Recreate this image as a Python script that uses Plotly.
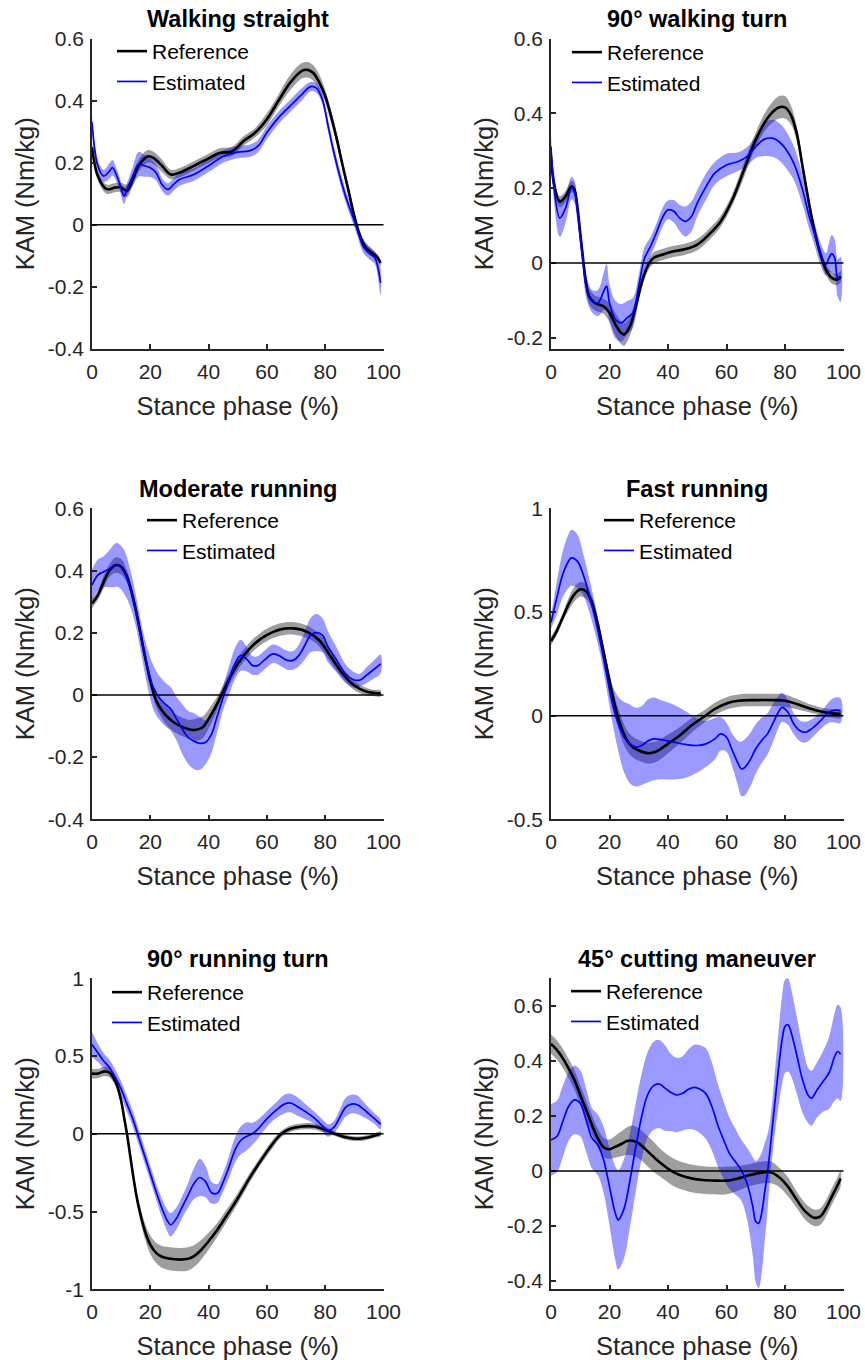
import plotly.graph_objects as go

# ---------------- DATA ----------------
titles = ["Walking straight", "90° walking turn", "Moderate running",
          "Fast running", "90° running turn", "45° cutting maneuver"]

# Walking straight
ws_ref_x = [0,2,5,8,10,12,14,16,19,21,24,27,30,35,40,44,48,52,56,60,64,68,72,74,76,78,80,82,84,86,88,90,92,94,96,98,99]
ws_ref_y = [0.25,0.157,0.115,0.12,0.12,0.11,0.146,0.19,0.22,0.216,0.19,0.162,0.168,0.19,0.214,0.232,0.236,0.27,0.297,0.34,0.40,0.458,0.496,0.499,0.488,0.458,0.415,0.35,0.275,0.19,0.11,0.028,-0.037,-0.074,-0.09,-0.106,-0.123]
ws_ref_sd = [0.02,0.015,0.015,0.015,0.015,0.02,0.02,0.02,0.02,0.02,0.02,0.015,0.015,0.015,0.015,0.015,0.015,0.015,0.015,0.02,0.02,0.025,0.025,0.025,0.025,0.025,0.02,0.02,0.02,0.015,0.015,0.015,0.015,0.015,0.012,0.01,0.01]
ws_est_x = [0,2,4,6,7,9,11,12,14,16,18,20,22,24,26,28,30,35,40,45,50,54,57,60,64,68,72,75,77,79,81,83,85,87,89,91,93,95,97,98,99]
ws_est_y = [0.33,0.19,0.157,0.173,0.184,0.146,0.092,0.114,0.157,0.195,0.19,0.184,0.168,0.13,0.114,0.13,0.146,0.162,0.19,0.22,0.234,0.238,0.254,0.297,0.345,0.383,0.42,0.445,0.44,0.404,0.318,0.232,0.157,0.092,0.039,-0.015,-0.069,-0.09,-0.106,-0.133,-0.187]
ws_est_sd = [0.02,0.02,0.02,0.025,0.025,0.02,0.025,0.02,0.03,0.04,0.035,0.03,0.025,0.02,0.02,0.02,0.02,0.02,0.02,0.02,0.02,0.02,0.02,0.02,0.02,0.02,0.02,0.015,0.015,0.015,0.02,0.02,0.02,0.02,0.02,0.02,0.02,0.02,0.02,0.03,0.04]

# 90 deg walking turn
wt_ref_x = [0,1,3,5,7,8,9,10,11,12,13,15,18,20,22,24,25,27,29,31,33,35,38,42,46,50,54,58,62,66,70,74,78,80,82,84,86,88,90,92,94,96,98,99]
wt_ref_y = [0.284,0.213,0.164,0.178,0.204,0.196,0.151,0.08,0.009,-0.053,-0.089,-0.107,-0.116,-0.133,-0.164,-0.187,-0.191,-0.169,-0.116,-0.053,-0.009,0.013,0.022,0.031,0.037,0.049,0.076,0.111,0.169,0.249,0.329,0.387,0.416,0.416,0.396,0.347,0.258,0.169,0.089,0.027,-0.018,-0.04,-0.044,-0.036]
wt_ref_sd = [0.015,0.015,0.015,0.015,0.015,0.015,0.015,0.015,0.015,0.015,0.02,0.02,0.02,0.025,0.03,0.03,0.03,0.025,0.02,0.015,0.015,0.015,0.015,0.015,0.015,0.015,0.015,0.015,0.015,0.02,0.02,0.025,0.03,0.03,0.025,0.02,0.015,0.015,0.015,0.015,0.015,0.015,0.015,0.015]
wt_est_x = [0,1,3,5,7,8,9,10,11,12,14,16,18,19,20,22,24,26,28,30,32,34,36,38,40,42,44,46,48,50,53,56,60,64,67,70,73,76,78,80,83,86,88,90,92,94,95,96,97,98,99]
wt_est_y = [0.311,0.204,0.12,0.147,0.2,0.191,0.142,0.071,0.0,-0.062,-0.102,-0.107,-0.076,-0.062,-0.107,-0.151,-0.16,-0.147,-0.133,-0.062,0.013,0.044,0.08,0.12,0.142,0.138,0.12,0.111,0.124,0.16,0.204,0.24,0.262,0.271,0.284,0.311,0.331,0.333,0.324,0.307,0.267,0.196,0.133,0.08,0.027,-0.004,0.013,0.025,0.013,-0.04,-0.044]
wt_est_sd = [0.03,0.04,0.05,0.04,0.03,0.03,0.03,0.03,0.03,0.03,0.03,0.035,0.05,0.06,0.05,0.05,0.05,0.045,0.04,0.03,0.03,0.025,0.025,0.025,0.025,0.03,0.035,0.04,0.04,0.035,0.035,0.03,0.03,0.025,0.025,0.03,0.045,0.05,0.05,0.05,0.045,0.04,0.035,0.03,0.03,0.03,0.04,0.05,0.05,0.05,0.06]

# Moderate running
mr_ref_x = [0,2,4,6,8,10,12,14,16,18,20,22,24,26,28,30,33,35,38,40,42,44,46,48,50,54,58,62,66,70,74,78,82,86,90,94,97,99]
mr_ref_y = [0.294,0.32,0.363,0.40,0.417,0.412,0.38,0.315,0.229,0.132,0.046,-0.018,-0.05,-0.072,-0.088,-0.099,-0.11,-0.113,-0.104,-0.077,-0.045,-0.008,0.03,0.068,0.10,0.148,0.181,0.202,0.213,0.213,0.202,0.175,0.122,0.068,0.03,0.011,0.006,0.005]
mr_ref_sd = [0.015,0.015,0.02,0.02,0.025,0.025,0.02,0.02,0.02,0.02,0.02,0.02,0.025,0.03,0.03,0.03,0.03,0.035,0.035,0.03,0.025,0.02,0.02,0.02,0.02,0.02,0.02,0.02,0.02,0.02,0.02,0.02,0.02,0.015,0.015,0.012,0.01,0.01]
mr_est_x = [0,2,4,6,8,9,11,13,15,17,19,21,23,25,27,29,31,33,35,37,39,41,43,45,47,49,51,53,55,57,59,62,64,67,69,71,73,75,77,79,81,84,87,90,92,94,97,99]
mr_est_y = [0.353,0.385,0.396,0.406,0.417,0.417,0.396,0.347,0.272,0.175,0.089,0.025,-0.008,-0.029,-0.045,-0.077,-0.11,-0.137,-0.149,-0.156,-0.152,-0.126,-0.067,-0.008,0.046,0.10,0.127,0.116,0.095,0.095,0.111,0.132,0.127,0.111,0.111,0.127,0.159,0.192,0.20,0.192,0.154,0.111,0.068,0.048,0.048,0.062,0.084,0.10]
mr_est_sd = [0.05,0.05,0.05,0.06,0.07,0.07,0.07,0.06,0.05,0.05,0.06,0.07,0.07,0.07,0.07,0.07,0.08,0.085,0.09,0.085,0.07,0.06,0.05,0.04,0.045,0.05,0.05,0.04,0.03,0.03,0.03,0.03,0.03,0.03,0.03,0.035,0.045,0.055,0.06,0.055,0.05,0.04,0.03,0.025,0.02,0.025,0.03,0.03]

# Fast running
fr_ref_x = [0,2,4,6,8,10,12,14,16,18,20,22,24,26,28,30,33,36,40,44,48,52,56,60,64,70,76,80,84,88,92,96,99]
fr_ref_y = [0.36,0.409,0.473,0.537,0.585,0.609,0.60,0.545,0.44,0.305,0.168,0.04,-0.056,-0.12,-0.152,-0.168,-0.181,-0.173,-0.136,-0.096,-0.048,-0.008,0.032,0.059,0.072,0.075,0.075,0.072,0.056,0.037,0.021,0.011,0.008]
fr_ref_sd = [0.02,0.02,0.02,0.03,0.035,0.035,0.035,0.03,0.03,0.03,0.03,0.04,0.05,0.05,0.05,0.05,0.05,0.05,0.045,0.04,0.035,0.03,0.03,0.03,0.03,0.03,0.03,0.03,0.025,0.02,0.02,0.02,0.02]
fr_est_x = [0,2,4,6,7,9,11,13,15,17,19,21,23,25,27,29,31,33,35,38,42,46,50,53,56,58,60,62,64,65,66,68,70,72,74,76,78,79,81,83,85,87,89,92,95,97,99]
fr_est_y = [0.449,0.569,0.681,0.745,0.761,0.745,0.681,0.585,0.473,0.345,0.20,0.056,-0.04,-0.104,-0.136,-0.152,-0.144,-0.123,-0.112,-0.117,-0.128,-0.139,-0.144,-0.136,-0.112,-0.088,-0.104,-0.168,-0.232,-0.256,-0.253,-0.216,-0.16,-0.12,-0.088,-0.032,0.024,0.04,0.016,-0.04,-0.072,-0.08,-0.064,-0.027,0.016,0.027,0.024]
fr_est_sd = [0.03,0.08,0.11,0.13,0.135,0.13,0.1,0.08,0.07,0.06,0.07,0.09,0.13,0.17,0.19,0.19,0.19,0.2,0.2,0.19,0.18,0.16,0.13,0.11,0.1,0.08,0.07,0.08,0.11,0.13,0.135,0.13,0.12,0.11,0.1,0.09,0.075,0.07,0.06,0.05,0.05,0.05,0.045,0.04,0.05,0.06,0.06]

# 90 deg running turn
rt_ref_x = [0,2,4,6,8,10,11,12,13,14,15,16,18,20,22,24,27,30,33,35,37,40,43,46,50,54,58,62,65,68,72,76,80,84,88,91,94,97,99]
rt_ref_y = [0.387,0.387,0.40,0.394,0.34,0.213,0.106,0.0,-0.128,-0.255,-0.372,-0.468,-0.617,-0.713,-0.766,-0.791,-0.804,-0.809,-0.804,-0.787,-0.755,-0.691,-0.617,-0.532,-0.415,-0.287,-0.17,-0.064,0.0,0.032,0.047,0.047,0.026,-0.004,-0.026,-0.032,-0.026,-0.011,0.0]
rt_ref_sd = [0.03,0.03,0.03,0.03,0.03,0.03,0.03,0.03,0.03,0.03,0.035,0.04,0.05,0.06,0.065,0.07,0.075,0.075,0.075,0.07,0.065,0.055,0.045,0.04,0.035,0.03,0.025,0.025,0.02,0.02,0.02,0.02,0.02,0.015,0.015,0.015,0.015,0.015,0.015]
rt_est_x = [0,2,4,6,8,10,12,14,16,18,20,22,24,26,27,29,31,33,35,37,39,41,43,45,47,49,51,53,55,57,60,63,66,68,70,73,76,79,81,83,85,87,89,91,93,95,97,99]
rt_est_y = [0.574,0.521,0.468,0.426,0.362,0.287,0.191,0.096,-0.021,-0.138,-0.255,-0.372,-0.479,-0.564,-0.585,-0.543,-0.468,-0.394,-0.319,-0.281,-0.309,-0.379,-0.383,-0.309,-0.213,-0.106,-0.043,-0.017,0.0,0.032,0.096,0.149,0.191,0.198,0.181,0.145,0.106,0.053,0.021,0.043,0.106,0.17,0.191,0.187,0.16,0.128,0.096,0.06]
rt_est_sd = [0.08,0.06,0.05,0.05,0.05,0.05,0.05,0.05,0.05,0.05,0.05,0.05,0.06,0.07,0.075,0.07,0.07,0.08,0.1,0.12,0.1,0.07,0.06,0.06,0.07,0.08,0.09,0.09,0.07,0.06,0.05,0.05,0.06,0.06,0.06,0.05,0.04,0.04,0.04,0.04,0.05,0.06,0.06,0.06,0.05,0.04,0.035,0.03]

# 45 deg cutting maneuver
cm_ref_x = [0,2,4,6,8,10,12,14,16,18,20,22,24,26,28,30,32,35,38,41,44,48,52,56,60,64,68,72,75,78,81,84,87,90,92,94,96,98,99]
cm_ref_y = [0.461,0.44,0.41,0.373,0.331,0.276,0.222,0.167,0.119,0.086,0.079,0.088,0.098,0.109,0.11,0.10,0.082,0.052,0.024,0.001,-0.015,-0.027,-0.033,-0.035,-0.035,-0.027,-0.015,-0.006,-0.005,-0.023,-0.057,-0.105,-0.148,-0.17,-0.166,-0.136,-0.093,-0.051,-0.027]
cm_ref_sd = [0.035,0.035,0.035,0.035,0.035,0.035,0.035,0.035,0.035,0.035,0.035,0.04,0.045,0.05,0.055,0.055,0.055,0.055,0.05,0.05,0.05,0.05,0.05,0.05,0.05,0.045,0.04,0.04,0.04,0.035,0.035,0.03,0.03,0.03,0.03,0.03,0.03,0.03,0.03]
cm_est_x = [0,2,4,6,8,10,12,14,16,18,20,22,23,25,27,29,31,33,35,37,39,41,43,45,47,49,51,53,55,57,59,61,63,65,67,69,70,71,72,73,74,75,77,79,80,81,82,84,86,88,89,91,93,95,97,98,99]
cm_est_y = [0.113,0.125,0.179,0.234,0.258,0.246,0.185,0.119,0.095,0.04,-0.057,-0.154,-0.178,-0.136,-0.033,0.088,0.198,0.276,0.309,0.316,0.301,0.285,0.276,0.282,0.297,0.304,0.297,0.28,0.234,0.167,0.113,0.064,0.034,0.004,-0.045,-0.13,-0.184,-0.19,-0.154,-0.081,-0.008,0.088,0.295,0.476,0.525,0.531,0.507,0.422,0.331,0.273,0.264,0.295,0.325,0.355,0.416,0.434,0.424]
cm_est_sd = [0.13,0.13,0.13,0.125,0.125,0.12,0.115,0.11,0.11,0.12,0.14,0.17,0.18,0.18,0.17,0.16,0.155,0.155,0.16,0.16,0.155,0.14,0.135,0.135,0.145,0.155,0.16,0.165,0.16,0.15,0.14,0.13,0.12,0.11,0.13,0.18,0.22,0.235,0.22,0.18,0.14,0.1,0.12,0.16,0.17,0.17,0.16,0.14,0.12,0.1,0.1,0.1,0.11,0.13,0.16,0.17,0.17]

x_ticks = [0, 20, 40, 60, 80, 100]
y_ticks = [
    [-0.4, -0.2, 0, 0.2, 0.4, 0.6],
    [-0.2, 0, 0.2, 0.4, 0.6],
    [-0.4, -0.2, 0, 0.2, 0.4, 0.6],
    [-0.5, 0, 0.5, 1],
    [-1, -0.5, 0, 0.5, 1],
    [-0.4, -0.2, 0, 0.2, 0.4, 0.6],
]
y_ranges = [[-0.4, 0.6], [-0.23, 0.6], [-0.4, 0.6], [-0.5, 1], [-1, 1], [-0.43, 0.70]]

panels = [
    (ws_ref_x, ws_ref_y, ws_ref_sd, ws_est_x, ws_est_y, ws_est_sd),
    (wt_ref_x, wt_ref_y, wt_ref_sd, wt_est_x, wt_est_y, wt_est_sd),
    (mr_ref_x, mr_ref_y, mr_ref_sd, mr_est_x, mr_est_y, mr_est_sd),
    (fr_ref_x, fr_ref_y, fr_ref_sd, fr_est_x, fr_est_y, fr_est_sd),
    (rt_ref_x, rt_ref_y, rt_ref_sd, rt_est_x, rt_est_y, rt_est_sd),
    (cm_ref_x, cm_ref_y, cm_ref_sd, cm_est_x, cm_est_y, cm_est_sd),
]

# ---------------- LAYOUT ----------------
W, H = 865, 1360
FONT = "Liberation Sans, Arial, Helvetica, sans-serif"
AX = "#262626"
col_px = [(92, 383.5), (551, 843.5)]
row_px = [(38.5, 349), (508.3, 819.3), (978.3, 1289.3)]
legend_px = [(112, 31), (567, 32), (142, 500), (599, 500), (107, 972), (566, 971)]

REF_BAND = "rgba(0,0,0,0.38)"
EST_BAND = "rgba(0,0,255,0.4)"

fig = go.Figure()
layout = dict(width=W, height=H, margin=dict(l=0, r=0, t=0, b=0, autoexpand=False),
              paper_bgcolor="white", plot_bgcolor="white",
              font=dict(family=FONT, color=AX), annotations=[], shapes=[])


def fmt(v):
    return "%g" % v


for i, (rx, ry, rs, ex, ey, es) in enumerate(panels):
    n = i + 1
    r, c = divmod(i, 2)
    xa = "x" if n == 1 else f"x{n}"
    ya = "y" if n == 1 else f"y{n}"
    leg = "legend" if n == 1 else f"legend{n}"
    # bands
    fig.add_trace(go.Scatter(
        x=rx + rx[::-1],
        y=[a + b for a, b in zip(ry, rs)] + [a - b for a, b in zip(ry, rs)][::-1],
        fill="toself", fillcolor=REF_BAND, line=dict(width=0, shape="spline"),
        mode="lines", hoverinfo="skip", showlegend=False, xaxis=xa, yaxis=ya))
    fig.add_trace(go.Scatter(
        x=ex + ex[::-1],
        y=[a + b for a, b in zip(ey, es)] + [a - b for a, b in zip(ey, es)][::-1],
        fill="toself", fillcolor=EST_BAND, line=dict(width=0, shape="spline"),
        mode="lines", hoverinfo="skip", showlegend=False, xaxis=xa, yaxis=ya))
    # mean lines
    fig.add_trace(go.Scatter(x=rx, y=ry, mode="lines", name="Reference",
                             line=dict(color="black", width=2.6, shape="spline"),
                             xaxis=xa, yaxis=ya, legend=leg))
    fig.add_trace(go.Scatter(x=ex, y=ey, mode="lines", name="Estimated",
                             line=dict(color="#0000ff", width=1.7, shape="spline"),
                             xaxis=xa, yaxis=ya, legend=leg))

    x0p, x1p = col_px[c]
    y0p, y1p = row_px[r]
    xdom = [x0p / W, x1p / W]
    ydom = [1 - y1p / H, 1 - y0p / H]
    axkey = "xaxis" if n == 1 else f"xaxis{n}"
    aykey = "yaxis" if n == 1 else f"yaxis{n}"
    common = dict(showline=True, linecolor=AX, linewidth=1.6, ticks="inside",
                  ticklen=5, tickwidth=1.6, tickcolor=AX, showgrid=False,
                  zeroline=False, mirror=False, automargin=False,
                  tickfont=dict(family=FONT, size=21, color=AX))
    layout[axkey] = dict(common, domain=xdom, anchor=ya, range=[0, 100],
                         tickvals=x_ticks, ticktext=[fmt(v) for v in x_ticks],
                         ticklabelstandoff=3,
                         title=dict(text="Stance phase (%)", standoff=15,
                                    font=dict(family=FONT, size=25.5, color=AX)))
    layout[aykey] = dict(common, domain=ydom, anchor=xa, range=y_ranges[i],
                         tickvals=y_ticks[i], ticktext=[fmt(v) for v in y_ticks[i]],
                         ticklabelstandoff=2,
                         title=dict(text="KAM (Nm/kg)", standoff=6,
                                    font=dict(family=FONT, size=25.5, color=AX)))
    # zero reference line
    layout["shapes"].append(dict(type="line", xref=f"{xa} domain", x0=0, x1=1,
                                 yref=ya, y0=0, y1=0,
                                 line=dict(color="black", width=1.5), layer="above"))
    # title
    layout["annotations"].append(dict(
        text=f"<b>{titles[i]}</b>", xref="paper", yref="paper",
        x=(x0p + x1p) / 2 / W, y=1 - (y0p - 19) / H, xanchor="center", yanchor="middle",
        showarrow=False, font=dict(family=FONT, size=23.5, color="black")))
    lx, ly = legend_px[i]
    layout[leg] = dict(x=lx / W, y=1 - ly / H, xanchor="left", yanchor="top",
                       bgcolor="rgba(0,0,0,0)", borderwidth=0,
                       font=dict(family=FONT, size=21, color="black"),
                       traceorder="normal", tracegroupgap=0)

fig.update_layout(**layout)
fig.write_html("out.html", config={"displayModeBar": False},
               post_script="document.body.style.margin='0';"
                           "document.body.style.overflow='hidden';")
